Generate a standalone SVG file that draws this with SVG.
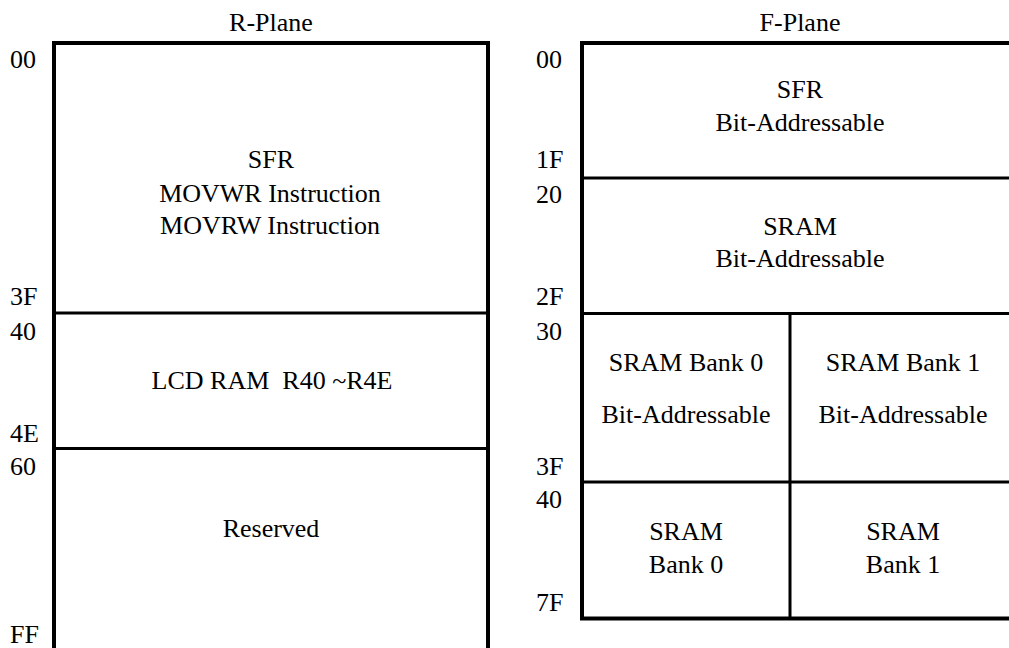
<svg xmlns="http://www.w3.org/2000/svg" width="1009" height="648" viewBox="0 0 1009 648">
<style>
.c{text-anchor:middle}
.o{fill:none;stroke:#000;stroke-width:4}
.d{stroke:#000;stroke-width:3;fill:none}
</style>
<rect width="1009" height="648" fill="#fff"/>
<g font-family="Liberation Serif" font-size="26" fill="#000">
<g id="titles">
<text class="c" x="271" y="31">R-Plane</text>
<text class="c" x="800" y="31">F-Plane</text>
</g>
<g id="r-plane">
<path class="o" d="M54,650 V43 H488 V650"/>
<line class="d" x1="54" y1="313" x2="488" y2="313"/>
<line class="d" x1="54" y1="448.5" x2="488" y2="448.5"/>
</g>
<g id="r-sfr">
<text class="c" x="271" y="168">SFR</text>
<text class="c" x="270" y="202">MOVWR Instruction</text>
<text class="c" x="270" y="234">MOVRW Instruction</text>
</g>
<g id="r-lcd">
<text class="c" x="272" y="389" xml:space="preserve">LCD RAM  R40 ~R4E</text>
</g>
<g id="r-reserved">
<text class="c" x="271" y="537">Reserved</text>
</g>
<g id="r-addr">
<text x="10" y="68">00</text>
<text x="10" y="305">3F</text>
<text x="10" y="340">40</text>
<text x="10" y="442">4E</text>
<text x="10" y="475">60</text>
<text x="10" y="643">FF</text>
</g>
<g id="f-plane">
<rect class="o" x="582" y="43" width="440" height="575.5"/>
<line class="d" x1="582" y1="178" x2="1022" y2="178"/>
<line class="d" x1="582" y1="313.5" x2="1022" y2="313.5"/>
<line class="d" x1="582" y1="482" x2="1022" y2="482"/>
<line class="d" x1="790" y1="313.5" x2="790" y2="618.5"/>
</g>
<g id="f-sfr">
<text class="c" x="800" y="98">SFR</text>
<text class="c" x="800" y="131">Bit-Addressable</text>
</g>
<g id="f-sram">
<text class="c" x="800" y="235">SRAM</text>
<text class="c" x="800" y="267">Bit-Addressable</text>
</g>
<g id="f-bank0-bit">
<text class="c" x="686" y="371">SRAM Bank 0</text>
<text class="c" x="686" y="423">Bit-Addressable</text>
</g>
<g id="f-bank1-bit">
<text class="c" x="903" y="371">SRAM Bank 1</text>
<text class="c" x="903" y="423">Bit-Addressable</text>
</g>
<g id="f-bank0">
<text class="c" x="686" y="540">SRAM</text>
<text class="c" x="686" y="573">Bank 0</text>
</g>
<g id="f-bank1">
<text class="c" x="903" y="540">SRAM</text>
<text class="c" x="903" y="573">Bank 1</text>
</g>
<g id="f-addr">
<text x="536" y="68">00</text>
<text x="536" y="168">1F</text>
<text x="536" y="203">20</text>
<text x="536" y="305">2F</text>
<text x="536" y="340">30</text>
<text x="536" y="475">3F</text>
<text x="536" y="508">40</text>
<text x="536" y="611">7F</text>
</g>
<g id="connectors"></g>
</g>
</svg>
